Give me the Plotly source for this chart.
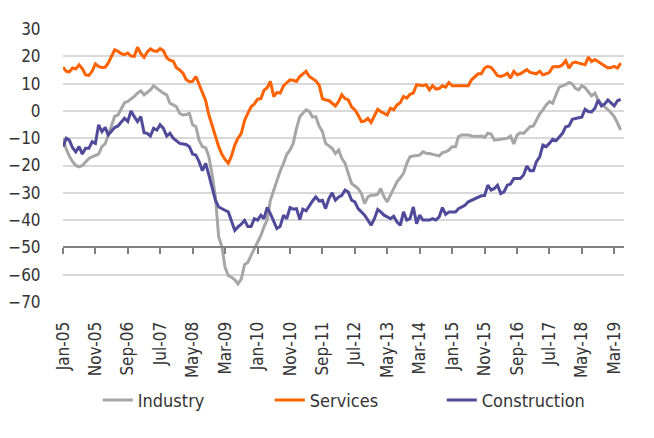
import pandas as pd
import plotly.graph_objects as go

# monthly readings, Jan-05 .. May-19
months = pd.date_range("2005-01-01", periods=173, freq="MS")

industry = [
    -10, -14, -16.5, -18.6, -20, -20.5, -20, -18.6, -17.4, -16.8,
    -16.2, -15.8, -13.1, -12, -9, -5, -2, -1.5, 1, 3,
    3.5, 4.3, 5.3, 6.5, 7.4, 5.9, 6.8, 7.7, 9.2, 8.3,
    7.1, 6.5, 5.9, 2.8, 2.2, 1.6, -0.9, -1.5, -1.3, -0.9,
    -5.1, -5.8, -10.7, -13.1, -13.5, -16.8, -23.5, -31.5, -46.2, -49.9,
    -57.2, -60.3, -60.9, -61.9, -63.4, -61.5, -56.3, -55.5, -52.9, -50.5,
    -48, -45.6, -42.5, -40, -32.7, -29, -25.5, -22, -19.2, -16,
    -14.3, -11.9, -6.4, -2.1, -0.9, 0.4, -0.2, -2.3, -2.1, -5.5,
    -7.6, -11.9, -12.8, -13.7, -15.6, -14.3, -17.4, -19.2, -22.9, -26.6,
    -27.5, -28.4, -30.3, -33.9, -31.5, -30.9, -30.9, -30.5, -28.4, -31.5,
    -33.3, -30.9, -28.4, -26, -24.5, -22.9, -19.2, -16.8, -16.5, -16.4,
    -16.2, -15, -15.5, -15.6, -16, -16.2, -16.5, -15.3, -15, -14.3,
    -13.1, -13.1, -9.4, -8.8, -8.8, -8.8, -9.2, -9.4, -9.4, -9.2,
    -9.7, -8.2, -8.5, -10.7, -10.5, -10.4, -10.2, -10, -9.2, -12.1,
    -8.8, -8, -8.2, -7, -5.8, -5.5, -3.3, -1.1, 0.4, 2.2,
    3.4, 2.8, 5.9, 8.7, 9.2, 9.6, 10.4, 9.9, 8.3, 7.7,
    9.2, 8.5, 7, 5.5, 6.5, 4, 2.5, 1.6, 0.5, -0.8,
    -2.1, -4.5, -7,
]

services = [
    16, 14.5, 14.3, 15.7, 15.4, 16.9, 15.5, 13.2, 13, 14.5,
    17.2, 16.3, 15.9, 16, 17.5, 20, 22.4, 21.8, 21, 20.6,
    21.2, 20.1, 20, 23.3, 21, 19.6, 21.5, 22.7, 22, 21.8,
    22.8, 22, 19.5, 18.6, 18.2, 15.8, 15, 13.8, 11.5, 10.7,
    10.8, 12.6, 9.5, 7, 3.7, -1.5, -5.5, -10, -13.1, -16,
    -17.8, -19.2, -16.5, -12.5, -10, -8.2, -3.5, -0.9, 1.5, 2.5,
    4.3, 4.5, 7.5, 8.5, 10.8, 5.3, 6.7, 6.5, 9.2, 10.3,
    11.4, 11.2, 10.8, 12.6, 13.4, 14.5, 12.6, 11.8, 11, 9.5,
    4.5, 4, 3.8, 2.8, 1.8, 3.5, 5.9, 4.5, 4, 1.5,
    0.4, -1.5, -3.9, -3.7, -2.7, -4.2, -2, 0.6, -0.2, -1,
    -1.5, 1, 0.4, 2.2, 3, 5.3, 4.7, 6.1, 6.5, 9.6,
    9.3, 9.2, 9.6, 7.7, 9.3, 8, 8.2, 9.2, 8.7, 10.4,
    9.2, 9.3, 9.2, 9.2, 9.3, 9.2, 11.4, 12.5, 13.6, 13.6,
    15.7, 16.3, 15.9, 14.5, 12.9, 12.6, 13, 13.8, 12, 14.5,
    13.2, 13.6, 14.3, 15.1, 14.1, 13.8, 13.6, 14.5, 13.2, 13.6,
    14.1, 16.1, 16.3, 16.2, 16.9, 18.4, 15.7, 17.5, 17.9, 17.5,
    17.2, 16.9, 19.7, 18.1, 18.8, 18, 17.5, 16.5, 15.7, 15.9,
    16.3, 15.7, 17.5,
]

construction = [
    -13.1, -10, -10.7, -13.5, -15, -13.1, -15.8, -13.7, -13.7, -11.3,
    -11.9, -5.1, -7.6, -6, -8.8, -7.4, -6.1, -5.5, -4, -2.7,
    -3.9, 0, -2.1, -3.9, -2.1, -8, -8.2, -9.2, -6.4, -7,
    -5.1, -6.4, -9.2, -8.2, -10, -11, -11.9, -12.1, -12.3, -13.1,
    -15.8, -16.2, -18.6, -21.9, -19.2, -23.5, -28.4, -32.7, -35.2, -36,
    -36.4, -37, -40.7, -43.8, -42.5, -41.5, -40.1, -42.3, -42.3, -39.5,
    -40, -38.2, -39.5, -35.4, -37.6, -40.7, -43.1, -42.3, -38.2, -39.5,
    -35.4, -36, -35.8, -39.8, -36, -36.6, -34.6, -33, -31.5, -33,
    -32.7, -35.8, -32.1, -30, -32.7, -31.5, -30.9, -29, -29.7, -32.7,
    -33.3, -35.8, -37, -38.2, -40, -41.9, -39.5, -36.1, -37, -38.2,
    -38.8, -39.5, -38.6, -40.7, -41.9, -37, -40, -39.5, -35.2, -41.3,
    -38.2, -40, -40, -40, -39.5, -40, -38.8, -35.4, -37.9, -37,
    -37, -37, -35.8, -35.2, -34.6, -33.3, -32.7, -32.2, -31.7, -31.1,
    -31, -27.2, -29, -28.4, -27.2, -30.3, -29.7, -27.2, -26.8, -24.8,
    -24.8, -24.8, -23.5, -20.2, -21.9, -21.9, -18.6, -16.8, -12.5, -13.1,
    -11.9, -10.4, -10.9, -9.5, -8.2, -5.8, -5.5, -3.1, -2.7, -2.5,
    -2.3, 0.6, -0.2, -0.4, 1, 4, 1.8, 2.5, 4, 2.8,
    1.8, 3.7, 4.2,
]

tick_dates = pd.date_range("2005-01-01", "2019-03-01", freq="10MS")
tick_labels = [
    "Jan-05", "Nov-05", "Sep-06", "Jul-07", "May-08", "Mar-09",
    "Jan-10", "Nov-10", "Sep-11", "Jul-12", "May-13", "Mar-14",
    "Jan-15", "Nov-15", "Sep-16", "Jul-17", "May-18", "Mar-19",
]

font = "Liberation Sans Narrow, DejaVu Sans Condensed, Arial Narrow, sans-serif"

fig = go.Figure()
fig.add_trace(go.Scatter(x=months, y=industry, name="Industry", mode="lines",
                         line=dict(color="#A6A6A6", width=3)))
fig.add_trace(go.Scatter(x=months, y=services, name="Services", mode="lines",
                         line=dict(color="#FF6200", width=3)))
fig.add_trace(go.Scatter(x=months, y=construction, name="Construction", mode="lines",
                         line=dict(color="#4F4B9A", width=3)))
# invisible copy so the second x axis (line at -50) gets drawn
fig.add_trace(go.Scatter(x=months, y=industry, xaxis="x2", mode="lines",
                         line=dict(width=0, color="rgba(0,0,0,0)"),
                         showlegend=False, hoverinfo="skip"))

x_range = [pd.Timestamp("2005-01-01"), pd.Timestamp("2019-06-01")]

# the page body adds an 8px offset, margins account for it
fig.update_layout(
    width=654,
    height=438,
    margin=dict(l=55, r=38, t=21, b=144, autoexpand=False),
    paper_bgcolor="white",
    plot_bgcolor="white",
    font=dict(family=font, size=17, color="#333333"),
    showlegend=True,
    legend=dict(orientation="h", x=0.062, xanchor="left", y=-0.36, yanchor="middle",
                font=dict(size=18, color="#333333"), entrywidth=127,
                tracegroupgap=0),
    xaxis=dict(
        range=x_range,
        tickvals=tick_dates,
        ticktext=tick_labels,
        tickangle=-90,
        ticks="outside",
        ticklen=12,
        tickcolor="rgba(0,0,0,0)",
        showgrid=False,
        showline=False,
        zeroline=False,
        automargin=False,
    ),
    # horizontal axis line drawn across y = -50, as in the source chart
    xaxis2=dict(
        overlaying="x",
        matches="x",
        anchor="free",
        position=0.2,
        side="bottom",
        range=x_range,
        tickvals=tick_dates,
        showticklabels=False,
        ticks="outside",
        ticklen=6,
        tickcolor="#808080",
        tickwidth=1.5,
        showline=True,
        linecolor="#808080",
        linewidth=1.5,
        showgrid=False,
        zeroline=False,
        automargin=False,
    ),
    yaxis=dict(
        range=[-70, 30],
        dtick=10,
        showgrid=True,
        gridcolor="#D9D9D9",
        gridwidth=1.5,
        zeroline=False,
        ticks="outside",
        ticklen=18,
        tickcolor="rgba(0,0,0,0)",
        automargin=False,
    ),
)

fig.write_html("out.html")
